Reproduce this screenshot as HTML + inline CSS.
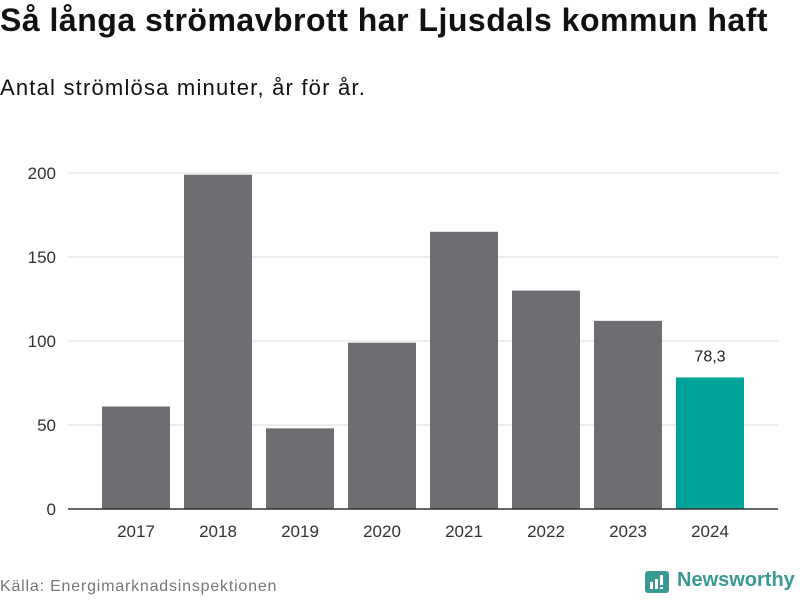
<!DOCTYPE html>
<html><head><meta charset="utf-8"><style>
body{margin:0;width:800px;height:600px;background:#fff;font-family:"Liberation Sans",sans-serif;overflow:hidden;position:relative}
.t{position:absolute;left:0;top:2px;font-size:32px;font-weight:bold;color:#111;white-space:nowrap;letter-spacing:0.5px}
.s{position:absolute;left:0;top:75px;font-size:22px;color:#111;letter-spacing:1.2px;white-space:nowrap}
.src{position:absolute;left:0;top:578px;font-size:16px;color:#777;letter-spacing:0.8px;white-space:nowrap}
</style></head><body>
<div class="t">Så långa strömavbrott har Ljusdals kommun haft</div>
<div class="s">Antal strömlösa minuter, år för år.</div>
<svg id="c" width="800" height="600" style="position:absolute;left:0;top:0"></svg>
<div class="src">Källa: Energimarknadsinspektionen</div>
<div style="position:absolute;left:645px;top:571px;width:24px;height:22px;background:#3a9a93;border-radius:3px">
<div style="position:absolute;left:5px;top:11px;width:3px;height:7px;background:#fff"></div>
<div style="position:absolute;left:10px;top:8px;width:3px;height:10px;background:#fff"></div>
<div style="position:absolute;left:15px;top:4px;width:3px;height:10px;background:#fff"></div>
<div style="position:absolute;left:15px;top:16px;width:3px;height:2px;background:#fff"></div>
</div>
<div style="position:absolute;left:677px;top:569px;font-size:20px;font-weight:bold;color:#3a9a93;white-space:nowrap">Newsworthy</div>
<script>
const years=["2017","2018","2019","2020","2021","2022","2023","2024"];
const values=[61,199,48,99,165,130,112,78.3];
const ticks=[0,50,100,150,200];
const svg=document.getElementById('c');
const NS="http://www.w3.org/2000/svg";
const y=v=>509-v*1.68;
const x=i=>136+i*82;
function mk(t,a){const e=document.createElementNS(NS,t);for(const k in a)e.setAttribute(k,a[k]);svg.appendChild(e);return e;}
ticks.forEach(t=>{
 if(t>0){const l=mk('line',{x1:68,x2:778,y1:y(t),y2:y(t),stroke:'#ddd','stroke-width':1});
 
 }
 const tx=mk('text',{x:56,y:y(t)+6,'text-anchor':'end','font-size':17,fill:'#333','font-family':'Liberation Sans'});
 tx.textContent=t;
 
 
});
values.forEach((v,i)=>{
 const last=i===values.length-1;
 const r=mk('rect',{x:x(i)-34,y:y(v),width:68,height:509-y(v),fill:last?'#00a399':'#6e6d72'});
 
 
 const tx=mk('text',{x:x(i),y:537,'text-anchor':'middle','font-size':17,fill:'#333','font-family':'Liberation Sans'});
 tx.textContent=years[i];
 
 
 if(last){const lb=mk('text',{x:x(i),y:y(v)-16,'text-anchor':'middle','font-size':16,fill:'#222','font-family':'Liberation Sans'});
 lb.textContent=String(v).replace('.',',');
 
 }
});
const ax=mk('line',{x1:68,x2:778,y1:509,y2:509,stroke:'#333','stroke-width':1.5});


</script>
</body></html>
